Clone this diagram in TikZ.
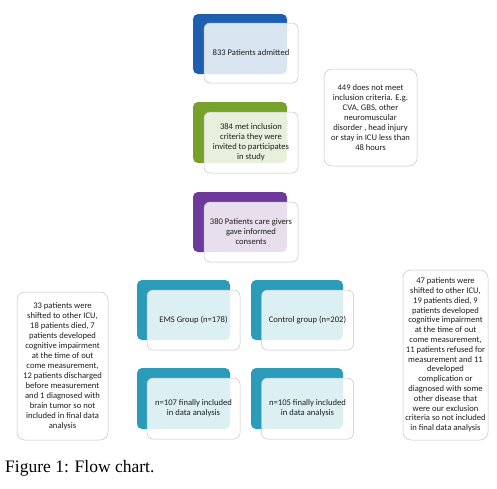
\documentclass[tikz,border=0pt]{standalone}
\usepackage{fontspec}
\setmainfont{Carlito}
\newfontfamily\capfont{Liberation Serif}
\usetikzlibrary{backgrounds}
\definecolor{cblue}{HTML}{1F5FAF}
\definecolor{cgreen}{HTML}{76A12A}
\definecolor{cpurple}{HTML}{6B3A9B}
\definecolor{cteal}{HTML}{2A9CBA}
\definecolor{cline}{HTML}{B4C2CC}
\definecolor{cborder}{HTML}{C4C4C4}
\definecolor{ctext}{HTML}{1E1E1E}
\begin{document}
\begin{tikzpicture}[x=1pt,y=-1pt,
  backbox/.style={rectangle, rounded corners=5pt, minimum width=94pt, minimum height=60pt, inner sep=0pt},
  frontbox/.style={rectangle, rounded corners=6pt, draw=cborder, line width=0.5pt, fill=white, fill opacity=0.84, text opacity=1, minimum width=94pt, minimum height=60pt, align=center, font=\fontsize{8.6}{10}\selectfont, text=ctext, inner sep=1pt},
  sidebox/.style={rectangle, rounded corners=8pt, draw=cborder, line width=0.5pt, fill=white, align=center, font=\fontsize{8.6}{10}\selectfont, text=ctext, inner sep=0pt},
  link/.style={draw=cline, line width=0.6pt}]
\useasboundingbox[fill=white] (0,0) rectangle (497,488);

% main column
\node[backbox, fill=cblue] (b1) at (240,44) {};
\node[frontbox] (f1) at (251,53) {833 Patients admitted};
\node[backbox, fill=cgreen, minimum height=61pt] (b2) at (240,132.5) {};
\node[frontbox, minimum height=61pt] (f2) at (251,142.5) {384 met inclusion\\criteria they were\\invited to participates\\in study};
\node[backbox, fill=cpurple] (b3) at (240,222) {};
\node[frontbox] (f3) at (251,232) {380 Patients care givers\\gave informed\\consents};

% groups
\node[backbox, fill=cteal, minimum width=93pt] (b4) at (183.5,310) {};
\node[frontbox, minimum width=93pt] (f4) at (193.5,320) {EMS Group (n=178)};
\node[backbox, fill=cteal, minimum width=92pt] (b5) at (297,310) {};
\node[frontbox, minimum width=92pt] (f5) at (307.5,320) {Control group (n=202)};
\node[backbox, fill=cteal, minimum width=93pt, minimum height=61pt] (b6) at (183.5,398.5) {};
\node[frontbox, minimum width=93pt, minimum height=61pt] (f6) at (193.5,408.5) {n=107 finally included\\in data analysis};
\node[backbox, fill=cteal, minimum width=92pt, minimum height=61pt] (b7) at (297,398.5) {};
\node[frontbox, minimum width=92pt, minimum height=61pt] (f7) at (307.5,408.5) {n=105 finally included\\in data analysis};

% side boxes
\node[sidebox, minimum width=93pt, minimum height=97pt] (s1) at (370.5,117.5) {449 does not meet\\inclusion criteria. E.g.\\CVA, GBS, other\\neuromuscular\\disorder , head injury\\or stay in ICU less than\\48 hours};
\node[sidebox, minimum width=91pt, minimum height=148pt] (s2) at (62.5,366) {33 patients were\\shifted to other ICU,\\18 patients died, 7\\patients developed\\cognitive impairment\\at the time of out\\come measurement,\\12 patients discharged\\before measurement\\and 1 diagnosed with\\brain tumor so not\\included in final data\\analysis};
\node[sidebox, minimum width=85pt, minimum height=170pt, font=\fontsize{8.6}{9.8}\selectfont] (s3) at (445.5,355) {47 patients were\\shifted to other ICU,\\19 patients died, 9\\patients developed\\cognitive impairment\\at the time of out\\come measurement,\\11 patients refused for\\measurement and 11\\developed\\complication or\\diagnosed with some\\other disease that\\were our exclusion\\criteria so not included\\in final data analysis};

% caption
\node[anchor=base west, inner sep=0pt, font=\capfont\fontsize{17.5}{20}\selectfont] (cap) at (5,472) {Figure 1: Flow chart.};

% connectors
\coordinate (j) at (240,270);
\begin{scope}[on background layer]
\draw[link] (b1.south) -- (b2.north);
\draw[link] (b2.south) -- (b3.north);
\draw[link] (b3.south) -- (j);
\draw[link] (j) -| (b4.north);
\draw[link] (j) -| (b5.north);
\draw[link] (b4.south) -- (b6.north);
\draw[link] (b5.south) -- (b7.north);
\end{scope}
\end{tikzpicture}
\end{document}
